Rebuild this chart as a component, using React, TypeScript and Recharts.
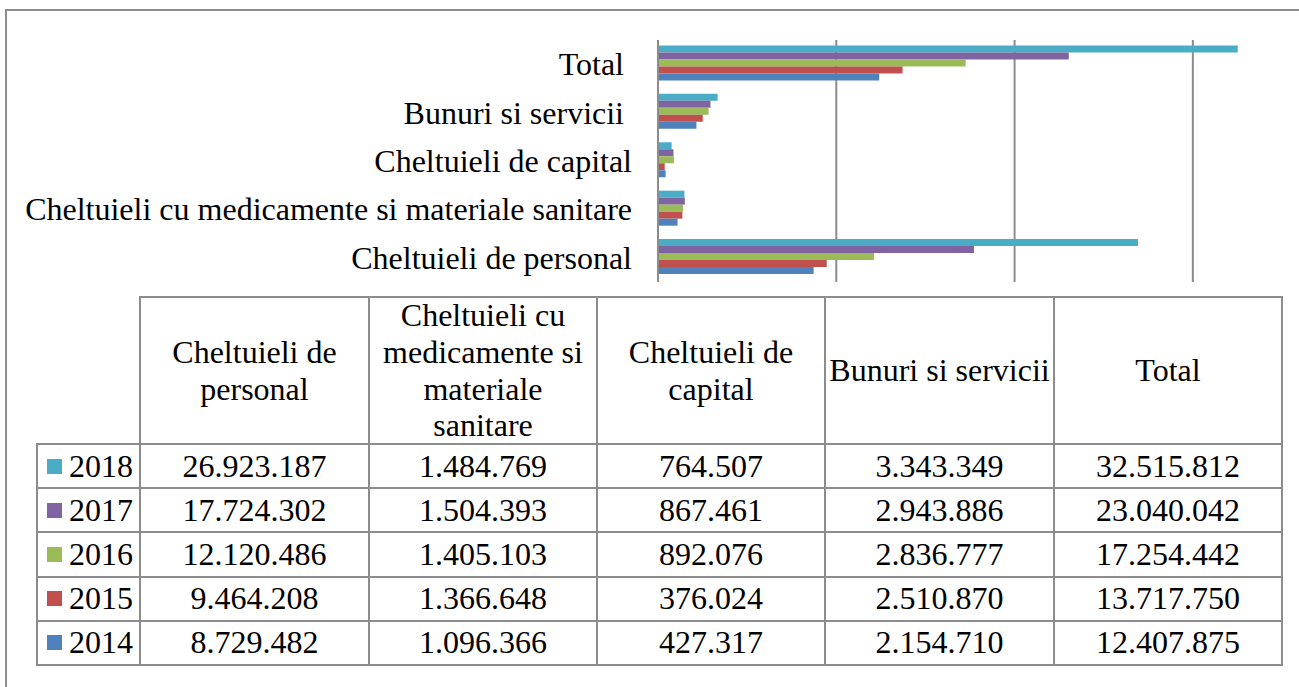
import React from "react";
import { BarChart, Bar, XAxis, YAxis, CartesianGrid } from "recharts";

const years = ["2018", "2017", "2016", "2015", "2014"];
const colors = ["#4BACC6", "#8064A2", "#9BBB59", "#C0504D", "#4F81BD"];
const categories = [
  "Cheltuieli de personal",
  "Cheltuieli cu medicamente si materiale sanitare",
  "Cheltuieli de capital",
  "Bunuri si servicii ",
  "Total ",
];
const headerLines = [
  ["Cheltuieli de", "personal"],
  ["Cheltuieli cu", "medicamente si", "materiale", "sanitare"],
  ["Cheltuieli de", "capital"],
  ["Bunuri si servicii"],
  ["Total"],
];
const v2018 = [26923187, 1484769, 764507, 3343349, 32515812];
const v2017 = [17724302, 1504393, 867461, 2943886, 23040042];
const v2016 = [12120486, 1405103, 892076, 2836777, 17254442];
const v2015 = [9464208, 1366648, 376024, 2510870, 13717750];
const v2014 = [8729482, 1096366, 427317, 2154710, 12407875];
const xDomain = [0, 35000000];
const xTicks = [0, 10000000, 20000000, 30000000];

const series = [v2018, v2017, v2016, v2015, v2014];

const data = categories.map((name, i) => {
  const row: Record<string, any> = { name };
  years.forEach((y, k) => {
    row[y] = series[k][i];
  });
  return row;
});

const FONT = "Liberation Serif, Tinos, serif";
const GRAY = "#8c8c8c";

const fmt = (n: number) => String(n).replace(/\B(?=(\d{3})+(?!\d))/g, ".");

const CatTick = (props: any) => {
  const { y, payload } = props;
  return (
    <text
      x={632}
      y={y}
      textAnchor="end"
      dominantBaseline="central"
      fill="#000"
      style={{ whiteSpace: "pre", fontFamily: FONT, fontSize: 32 }}
    >
      {payload.value}
    </text>
  );
};

const gridX = (props: any) => {
  const { xAxis, offset } = props;
  if (xAxis && typeof xAxis.scale === "function") {
    return xTicks.map((t) => xAxis.scale(t));
  }
  return xTicks.map(
    (t) => offset.left + ((t - xDomain[0]) / (xDomain[1] - xDomain[0])) * offset.width
  );
};

const colX = [37, 140, 369, 597, 825, 1054, 1282];
const headerTop = 297;
const headerBottom = 444;
const rowH = 44.2;

const cellStyle = (left: number, top: number, w: number, h: number): React.CSSProperties => ({
  position: "absolute",
  left: left - 1,
  top: top - 1,
  width: w + 2,
  height: h + 2,
  border: `2px solid ${GRAY}`,
  boxSizing: "border-box",
  display: "flex",
  alignItems: "center",
  justifyContent: "center",
  textAlign: "center",
  fontFamily: FONT,
  fontSize: 32,
  lineHeight: "36.8px",
  color: "#000",
  whiteSpace: "nowrap",
});

export default function App() {
  return (
    <div
      style={{
        position: "fixed",
        left: 0,
        top: 0,
        width: 1299,
        height: 687,
        background: "#fff",
        overflow: "hidden",
        fontFamily: FONT,
      }}
    >
      <div
        style={{
          position: "absolute",
          left: 5,
          top: 9,
          width: 1400,
          height: 800,
          borderTop: `2px solid ${GRAY}`,
          borderLeft: `2px solid ${GRAY}`,
        }}
      />
      <div style={{ position: "absolute", left: 0, top: 0 }}>
        <BarChart
          width={1299}
          height={300}
          data={data}
          layout="vertical"
          margin={{ top: 40, right: 17, bottom: 18, left: 0 }}
          barGap={0}
          barCategoryGap="11.3%"
        >
          <CartesianGrid
            horizontal={false}
            vertical={true}
            stroke={GRAY}
            strokeWidth={2}
            verticalCoordinatesGenerator={gridX}
          />
          <XAxis
            type="number"
            hide
            domain={xDomain}
            ticks={xTicks}
            allowDataOverflow
          />
          <YAxis
            type="category"
            dataKey="name"
            width={658}
            reversed
            axisLine={{ stroke: GRAY, strokeWidth: 2 }}
            tickLine={false}
            tick={<CatTick />}
            interval={0}
          />
          {years.map((y, k) => (
            <Bar key={y} dataKey={y} fill={colors[k]} isAnimationActive={false} />
          ))}
        </BarChart>
      </div>
      {headerLines.map((lines, c) => (
        <div
          key={"h" + c}
          style={cellStyle(colX[c + 1], headerTop, colX[c + 2] - colX[c + 1], headerBottom - headerTop)}
        >
          <div>
            {lines.map((l, j) => (
              <div key={j}>{l}</div>
            ))}
          </div>
        </div>
      ))}
      {years.map((y, r) => {
        const top = headerBottom + r * rowH;
        return (
          <React.Fragment key={y}>
            <div
              style={{
                ...cellStyle(colX[0], top, colX[1] - colX[0], rowH),
                justifyContent: "flex-start",
                paddingLeft: 9,
              }}
            >
              <span
                style={{
                  display: "inline-block",
                  width: 15,
                  height: 15,
                  background: colors[r],
                  marginRight: 7,
                }}
              />
              <span>{y}</span>
            </div>
            {categories.map((_, c) => (
              <div
                key={c}
                style={cellStyle(colX[c + 1], top, colX[c + 2] - colX[c + 1], rowH)}
              >
                {fmt(series[r][c])}
              </div>
            ))}
          </React.Fragment>
        );
      })}
    </div>
  );
}
